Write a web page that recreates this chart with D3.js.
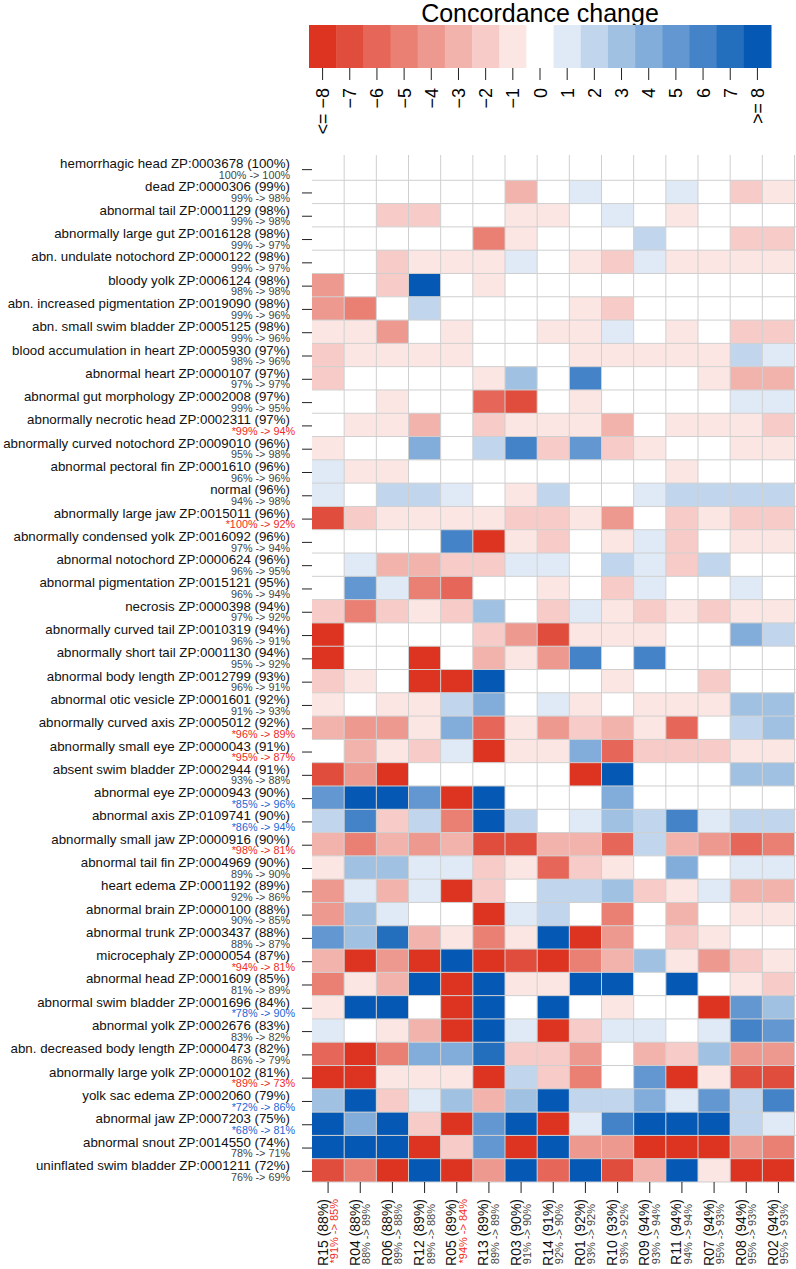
<!DOCTYPE html>
<html>
<head>
<meta charset="UTF-8">
<title>Concordance change</title>
<style>
body { margin: 0; background: #fff; }
svg { display: block; font-family: "Liberation Sans", Arial, sans-serif; }
</style>
</head>
<body>
<script src="https://cdn.jsdelivr.net/npm/d3@7"></script>
<script>
// phenotypes (rows), with overall concordance and before -> after
var phenotypes = [
  "hemorrhagic head ZP:0003678", "dead ZP:0000306", "abnormal tail ZP:0001129",
  "abnormally large gut ZP:0016128", "abn. undulate notochord ZP:0000122", "bloody yolk ZP:0006124",
  "abn. increased pigmentation ZP:0019090", "abn. small swim bladder ZP:0005125",
  "blood accumulation in heart ZP:0005930", "abnormal heart ZP:0000107",
  "abnormal gut morphology ZP:0002008", "abnormally necrotic head ZP:0002311",
  "abnormally curved notochord ZP:0009010", "abnormal pectoral fin ZP:0001610", "normal",
  "abnormally large jaw ZP:0015011", "abnormally condensed yolk ZP:0016092",
  "abnormal notochord ZP:0000624", "abnormal pigmentation ZP:0015121", "necrosis ZP:0000398",
  "abnormally curved tail ZP:0010319", "abnormally short tail ZP:0001130",
  "abnormal body length ZP:0012799", "abnormal otic vesicle ZP:0001601",
  "abnormally curved axis ZP:0005012", "abnormally small eye ZP:0000043",
  "absent swim bladder ZP:0002944", "abnormal eye ZP:0000943", "abnormal axis ZP:0109741",
  "abnormally small jaw ZP:0000916", "abnormal tail fin ZP:0004969", "heart edema ZP:0001192",
  "abnormal brain ZP:0000100", "abnormal trunk ZP:0003437", "microcephaly ZP:0000054",
  "abnormal head ZP:0001609", "abnormal swim bladder ZP:0001696", "abnormal yolk ZP:0002676",
  "abn. decreased body length ZP:0000473", "abnormally large yolk ZP:0000102",
  "yolk sac edema ZP:0002060", "abnormal jaw ZP:0007203", "abnormal snout ZP:0014550",
  "uninflated swim bladder ZP:0001211"
];
var phenoConc   = [100,99,98,98,98,98,98,98,97,97,97,97,96,96,96,96,96,96,95,94,94,94,93,92,92,91,91,90,90,90,90,89,88,88,87,85,84,83,82,81,79,75,74,72];
var phenoBefore = [100,99,99,99,99,98,99,99,98,97,99,99,95,96,94,100,97,96,96,97,96,95,96,91,96,95,93,85,86,98,89,92,90,88,94,81,78,83,86,89,72,68,78,76];
var phenoAfter  = [100,98,98,97,97,98,96,96,96,97,95,94,98,96,98,92,94,95,94,92,91,92,91,93,89,87,88,96,94,81,90,86,85,87,81,89,90,82,79,73,86,81,71,69];
var phenoSig    = [0,0,0,0,0,0,0,0,0,0,0,1,0,0,0,1,0,0,0,0,0,0,0,0,1,1,0,1,1,1,0,0,0,0,1,0,1,0,0,1,1,1,0,0];

// runs (columns)
var runs       = ["R15","R04","R06","R12","R05","R13","R03","R14","R01","R10","R09","R11","R07","R08","R02"];
var runConc    = [88,88,88,89,89,89,90,91,92,93,94,94,94,94,94];
var runBefore  = [91,88,89,89,94,89,91,92,93,93,93,94,95,95,95];
var runAfter   = [85,89,88,88,84,89,90,90,92,92,94,94,93,93,93];
var runSig     = [1,0,0,0,1,0,0,0,0,0,0,0,0,0,0];

// concordance change per phenotype (row) and run (column)
var change = [
  [ 0, 0, 0, 0, 0, 0, 0, 0, 0, 0, 0, 0, 0, 0, 0],
  [ 0, 0, 0, 0, 0, 0,-3, 0, 1, 0, 0, 1, 0,-2,-1],
  [ 0, 0,-2,-2, 0, 0,-1,-1, 0, 1, 0,-1, 0, 0, 0],
  [ 0, 0, 0, 0, 0,-5,-1, 0, 0, 0, 2, 0, 0,-2,-2],
  [ 0, 0,-2,-1,-1,-1, 1, 0,-1,-2, 1,-1,-1,-1,-1],
  [-4, 0,-2, 8, 0,-1, 0, 0, 0, 0, 0, 0, 0, 0, 0],
  [-4,-5, 0, 2, 0, 0, 0, 0,-1,-2, 0, 0, 0, 0, 0],
  [-1,-1,-4, 0,-1, 0, 0,-1,-1, 1, 0,-1, 0,-2,-2],
  [-2,-1,-1,-1,-1, 0, 0, 0,-1,-1,-1,-1,-1, 2, 1],
  [-2, 0, 0, 0, 0,-1, 3, 0, 6, 0, 0, 0,-1,-3,-3],
  [ 0, 0,-1, 0, 0,-6,-7, 0,-1, 0, 0, 0, 0, 1, 1],
  [ 0,-1,-1,-3, 0,-2,-1,-1,-1,-3, 0,-1,-1,-1,-2],
  [-1, 0, 0, 4, 0, 2, 6,-2, 5,-2,-1, 0, 0,-1,-1],
  [ 1,-1,-1, 0, 0, 0, 0, 0, 0, 0, 0,-1, 0, 0, 0],
  [ 1, 0, 2, 2, 1, 0,-1, 2, 0, 0, 1, 2, 2, 2, 2],
  [-7,-2,-1,-1,-1,-1,-2,-2,-1,-4, 0,-2,-1,-2,-2],
  [ 0, 0, 0, 0, 6,-8,-1,-2, 0,-1, 1,-2, 0,-1,-1],
  [ 0, 1,-3,-3,-2,-2, 1, 1, 0, 2, 1,-2, 2, 0, 0],
  [ 0, 5, 1,-5,-6, 0, 0,-1, 0,-2, 1, 0, 0, 1, 0],
  [-2,-5,-2,-1,-2, 3, 0,-2, 1,-1,-2,-1,-2,-1,-1],
  [-8, 0, 0, 0, 0,-2,-4,-7,-1,-1,-1, 0, 0, 4, 2],
  [-8, 0, 0,-8, 0,-3,-1,-4, 6, 0, 6, 0, 0, 0, 0],
  [-2,-1, 0,-8,-8, 8, 0, 0, 0,-1, 0, 0,-2, 0, 0],
  [-1, 0,-1,-1, 2, 4, 0, 1,-1, 0,-1,-1,-1, 3, 3],
  [-3,-4,-4,-1, 4,-6,-1,-4,-2,-3,-1,-6, 0, 2, 3],
  [ 0,-3,-1,-2, 1,-8,-1,-1, 4,-6,-2,-2,-2,-1,-1],
  [-7,-4,-8, 0, 0, 0, 0, 0,-8, 8, 0, 0, 0, 3, 3],
  [ 5, 8, 8, 5,-8, 8, 0, 0, 0, 4, 0, 0, 0, 0, 0],
  [ 2, 6,-2, 2,-5, 8, 2, 0, 1, 3, 2, 6, 1, 2, 2],
  [-3,-5,-3,-4,-3,-7,-7,-3,-3,-6, 2,-3,-4,-6,-5],
  [-1, 3, 3, 1, 1,-2,-1,-6,-2,-1, 0, 4, 0, 1, 1],
  [-4, 1,-3, 1,-8,-2, 0, 2, 2, 3,-2,-1, 1,-3,-3],
  [-4, 3, 1, 0, 0,-8, 1, 2, 0,-5, 0,-3, 0,-1,-1],
  [ 5, 3, 7,-3,-1,-5,-1, 8,-8,-4, 0,-2,-1, 0, 0],
  [-3,-8,-4,-8, 8,-8,-7,-8,-5,-3, 3,-1,-4,-2,-1],
  [-5,-1,-3, 8,-8, 8,-1,-1, 8, 8, 0, 8, 0,-1,-2],
  [-1, 8, 8, 0,-8, 8, 0, 8, 0,-1, 0, 0,-8, 5, 3],
  [ 1, 0,-1,-3,-8, 8, 1,-8,-2, 1, 1, 0, 1, 6, 5],
  [-6,-8,-5, 4, 4, 7,-2,-2,-4, 0,-3,-2, 3,-4,-4],
  [-8,-8,-1,-1,-1,-8, 2,-2,-5, 0, 5,-8,-1,-7,-7],
  [ 3, 8,-2, 1, 3,-3, 3, 8, 2, 2, 4, 1, 5, 2, 6],
  [ 8, 4, 8,-2,-8, 5, 8,-8, 1, 6, 8, 8, 8, 2, 1],
  [ 8, 8, 8,-8,-2, 5,-8, 8,-4,-4,-8,-8,-8,-4,-5],
  [-7,-5,-8, 8,-8,-4, 8,-6, 8,-7,-3, 8,-1,-8,-8]
];

// legend steps and their labels
var legendSteps  = d3.range(-8, 9);
var legendLabels = ["<= \u22128","\u22127","\u22126","\u22125","\u22124","\u22123","\u22122","\u22121","0","1","2","3","4","5","6","7",">= 8"];

var width = 796, height = 1269;
var svg = d3.select("body").append("svg")
  .attr("width", width)
  .attr("height", height);

var color = d3.scaleLinear()
  .domain([-8, 0, 8])
  .range(["#dd3321", "#ffffff", "#0559b5"])
  .clamp(true);

var sigColor = function(before, after) {
  return after < before ? "#f02a22" : "#2266d4";
};
var subText = function(sig, before, after) {
  return (sig ? "*" : "") + before + "% -> " + after + "%";
};

// ---- legend ----
var lx = d3.scaleBand().domain(legendSteps).range([309, 771]);
var legend = svg.append("g");
legend.append("text")
  .attr("x", 540).attr("y", 22)
  .attr("text-anchor", "middle")
  .attr("font-size", 25)
  .text("Concordance change");
legend.selectAll("rect").data(legendSteps).enter().append("rect")
  .attr("x", function(d){ return lx(d); })
  .attr("y", 25)
  .attr("width", lx.bandwidth() + 0.5)
  .attr("height", 43)
  .attr("fill", function(d){ return color(d); });
legend.selectAll("line").data(legendSteps).enter().append("line")
  .attr("x1", function(d){ return lx(d) + lx.bandwidth() / 2; })
  .attr("x2", function(d){ return lx(d) + lx.bandwidth() / 2; })
  .attr("y1", 68).attr("y2", 80)
  .attr("stroke", "#222").attr("stroke-width", 1);
legend.selectAll("text.lab").data(legendSteps).enter().append("text")
  .attr("class", "lab")
  .attr("transform", function(d){
    return "translate(" + (lx(d) + lx.bandwidth() / 2 + 6.5) + ",88) rotate(-90)";
  })
  .attr("text-anchor", "end")
  .attr("font-size", 18)
  .text(function(d, i){ return legendLabels[i]; });

// ---- heatmap ----
var x = d3.scaleBand().domain(d3.range(runs.length)).range([312, 794.5]);
var y = d3.scaleBand().domain(d3.range(phenotypes.length)).range([157, 1182]);

var cells = [];
change.forEach(function(row, r){
  row.forEach(function(v, c){ cells.push({r: r, c: c, v: v}); });
});
var heat = svg.append("g");
heat.selectAll("rect").data(cells).enter().append("rect")
  .attr("x", function(d){ return x(d.c); })
  .attr("y", function(d){ return y(d.r); })
  .attr("width", x.bandwidth())
  .attr("height", y.bandwidth())
  .attr("fill", function(d){ return color(d.v); });

// grid lines between cells
var grid = svg.append("g").attr("stroke", "#cfcfcf").attr("stroke-width", 1);
d3.range(1, runs.length + 1).forEach(function(c){
  var xx = c < runs.length ? x(c) : x(c - 1) + x.bandwidth();
  grid.append("line").attr("x1", xx).attr("x2", xx).attr("y1", 155).attr("y2", 1182);
});
d3.range(1, phenotypes.length + 1).forEach(function(r){
  var yy = r < phenotypes.length ? y(r) : y(r - 1) + y.bandwidth();
  grid.append("line").attr("x1", 312).attr("x2", 796).attr("y1", yy).attr("y2", yy);
});

// ---- row labels ----
var rows = svg.append("g");
phenotypes.forEach(function(name, i){
  var cy = y(i) + y.bandwidth() / 2;
  rows.append("line")
    .attr("x1", 302).attr("x2", 312)
    .attr("y1", cy + 1).attr("y2", cy + 1)
    .attr("stroke", "#222");
  rows.append("text")
    .attr("x", 290).attr("y", cy - 0.5)
    .attr("text-anchor", "end")
    .attr("font-size", 13.3)
    .attr("fill", "#111")
    .text(name + " (" + phenoConc[i] + "%)");
  rows.append("text")
    .attr("x", phenoSig[i] ? 295 : 290)
    .attr("y", y(i) + y.bandwidth() - 1.5)
    .attr("text-anchor", "end")
    .attr("font-size", 10.8)
    .attr("fill", phenoSig[i] ? sigColor(phenoBefore[i], phenoAfter[i]) : "#444")
    .text(subText(phenoSig[i], phenoBefore[i], phenoAfter[i]));
});

// ---- column labels ----
var cols = svg.append("g");
runs.forEach(function(name, i){
  var cx = x(i) + x.bandwidth() / 2;
  cols.append("line")
    .attr("x1", cx).attr("x2", cx)
    .attr("y1", 1182).attr("y2", 1193)
    .attr("stroke", "#222");
  cols.append("text")
    .attr("transform", "translate(" + (cx - 0.5) + ",1199) rotate(-90)")
    .attr("text-anchor", "end")
    .attr("font-size", 14)
    .attr("fill", "#111")
    .text(name + " (" + runConc[i] + "%)");
  cols.append("text")
    .attr("transform", "translate(" + (cx + 10) + "," + (runSig[i] ? 1199 : 1204) + ") rotate(-90)")
    .attr("text-anchor", "end")
    .attr("font-size", 11)
    .attr("fill", runSig[i] ? sigColor(runBefore[i], runAfter[i]) : "#444")
    .text(subText(runSig[i], runBefore[i], runAfter[i]));
});
</script>
</body>
</html>
